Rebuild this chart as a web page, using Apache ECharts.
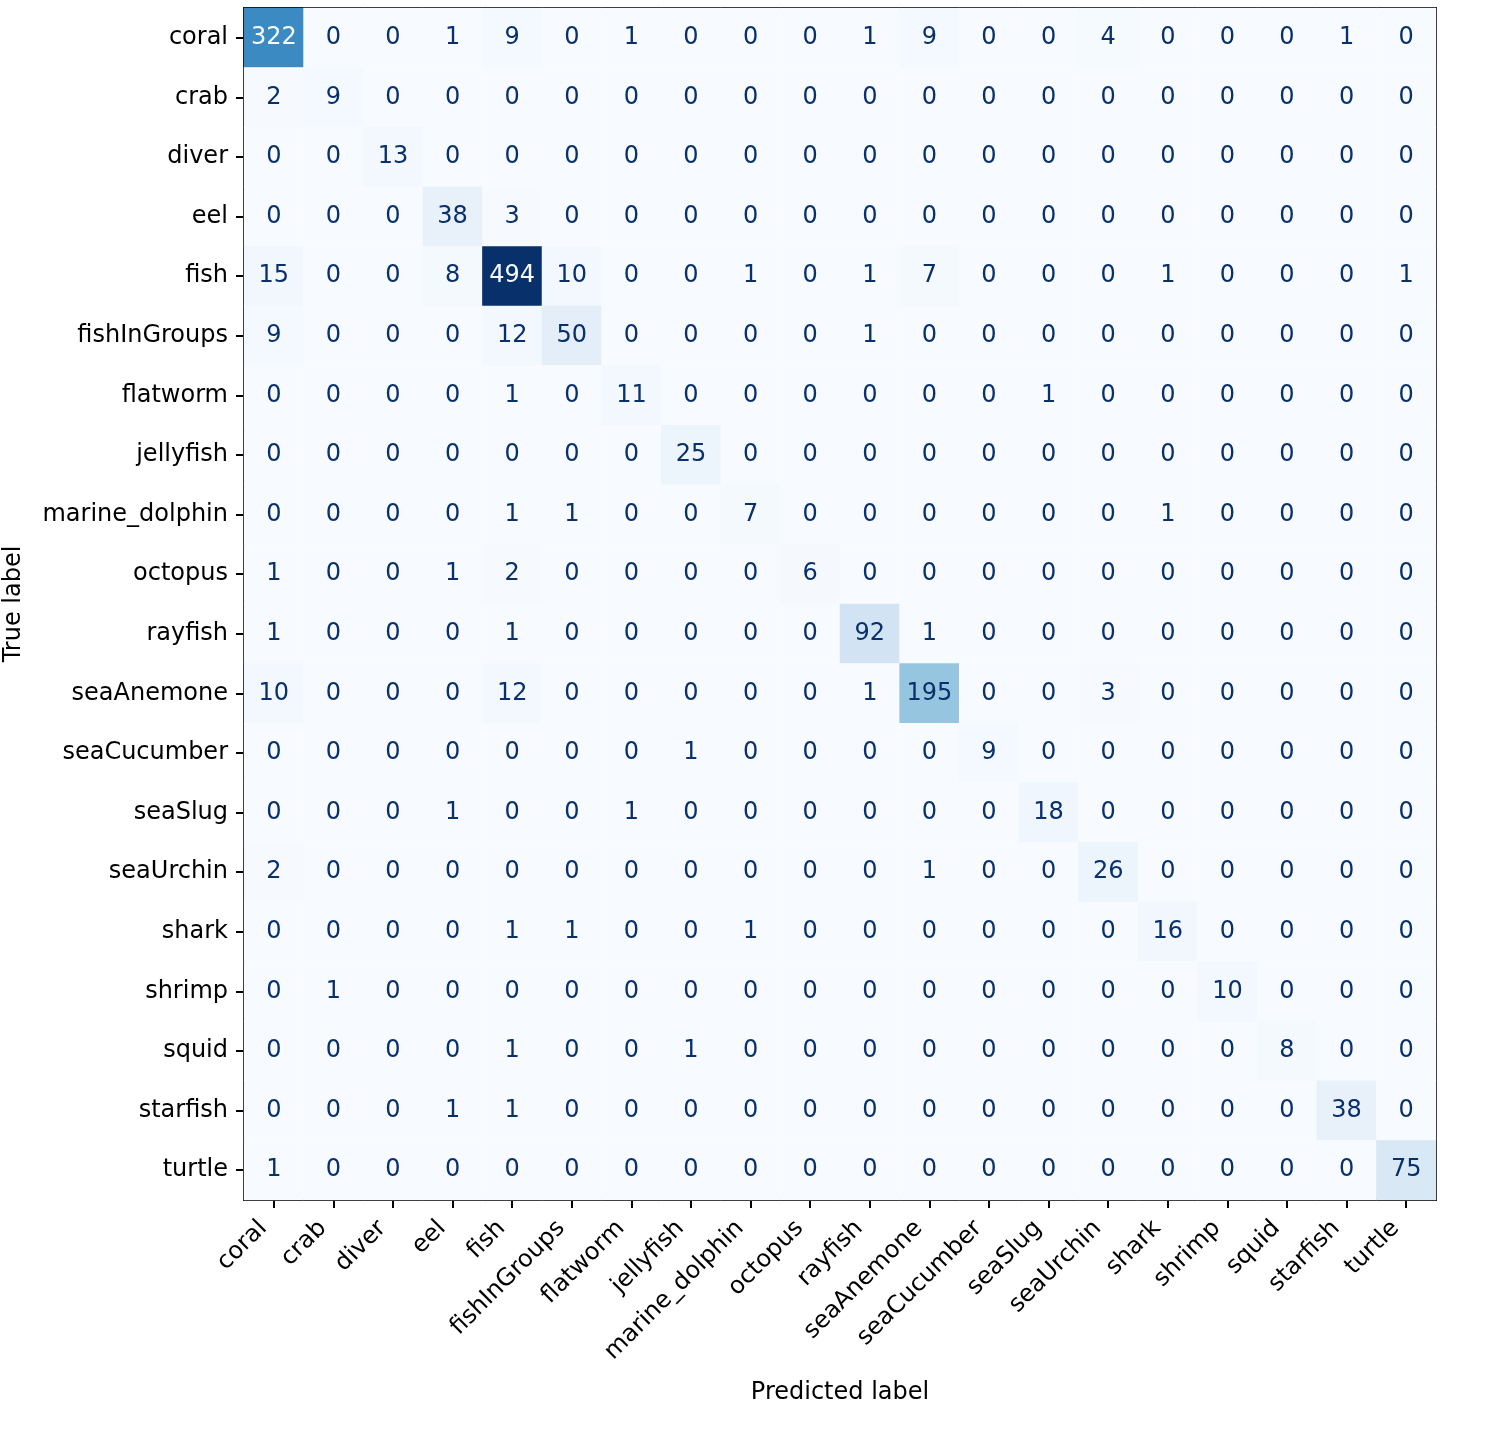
<!DOCTYPE html>
<html>
<head>
<meta charset="utf-8">
<script src="https://cdn.jsdelivr.net/npm/echarts@6/dist/echarts.min.js"></script>
<style>html,body{margin:0;padding:0;background:#fff}#chart{width:1495px;height:1447px}</style>
</head>
<body>
<div id="chart"></div>
<script>
const classes = ["coral","crab","diver","eel","fish","fishInGroups","flatworm","jellyfish","marine_dolphin","octopus","rayfish","seaAnemone","seaCucumber","seaSlug","seaUrchin","shark","shrimp","squid","starfish","turtle"];
const matrix = [
  [322,0,0,1,9,0,1,0,0,0,1,9,0,0,4,0,0,0,1,0],
  [2,9,0,0,0,0,0,0,0,0,0,0,0,0,0,0,0,0,0,0],
  [0,0,13,0,0,0,0,0,0,0,0,0,0,0,0,0,0,0,0,0],
  [0,0,0,38,3,0,0,0,0,0,0,0,0,0,0,0,0,0,0,0],
  [15,0,0,8,494,10,0,0,1,0,1,7,0,0,0,1,0,0,0,1],
  [9,0,0,0,12,50,0,0,0,0,1,0,0,0,0,0,0,0,0,0],
  [0,0,0,0,1,0,11,0,0,0,0,0,0,1,0,0,0,0,0,0],
  [0,0,0,0,0,0,0,25,0,0,0,0,0,0,0,0,0,0,0,0],
  [0,0,0,0,1,1,0,0,7,0,0,0,0,0,0,1,0,0,0,0],
  [1,0,0,1,2,0,0,0,0,6,0,0,0,0,0,0,0,0,0,0],
  [1,0,0,0,1,0,0,0,0,0,92,1,0,0,0,0,0,0,0,0],
  [10,0,0,0,12,0,0,0,0,0,1,195,0,0,3,0,0,0,0,0],
  [0,0,0,0,0,0,0,1,0,0,0,0,9,0,0,0,0,0,0,0],
  [0,0,0,1,0,0,1,0,0,0,0,0,0,18,0,0,0,0,0,0],
  [2,0,0,0,0,0,0,0,0,0,0,1,0,0,26,0,0,0,0,0],
  [0,0,0,0,1,1,0,0,1,0,0,0,0,0,0,16,0,0,0,0],
  [0,1,0,0,0,0,0,0,0,0,0,0,0,0,0,0,10,0,0,0],
  [0,0,0,0,1,0,0,1,0,0,0,0,0,0,0,0,0,8,0,0],
  [0,0,0,1,1,0,0,0,0,0,0,0,0,0,0,0,0,0,38,0],
  [1,0,0,0,0,0,0,0,0,0,0,0,0,0,0,0,0,0,0,75]
];
const blues = ['#f7fbff','#deebf7','#c6dbef','#9ecae1','#6baed6','#4292c6','#2171b5','#08519c','#08306b'];

let vmax = 0, vmin = Infinity;
matrix.forEach(r => r.forEach(v => { vmax = Math.max(vmax, v); vmin = Math.min(vmin, v); }));
const thresh = (vmax + vmin) / 2;
const data = [];
matrix.forEach((row, i) => row.forEach((v, j) => {
  data.push({ value: [j, i, v], label: { color: v > thresh ? blues[0] : blues[8] } });
}));

const FONT = 'DejaVu Sans';
const chart = echarts.init(document.getElementById('chart'), null, { renderer: 'canvas' });
chart.setOption({
  backgroundColor: '#ffffff',
  animation: false,
  textStyle: { fontFamily: FONT },
  grid: { left: 244, top: 8, width: 1192, height: 1192, containLabel: false, outerBoundsMode: 'none' },
  xAxis: [{
    type: 'category', data: classes, position: 'bottom',
    name: 'Predicted label', nameLocation: 'middle', nameGap: 181,
    nameTextStyle: { fontSize: 24, color: '#000', fontFamily: FONT },
    axisLine: { show: true, lineStyle: { color: '#000', width: 2 } },
    axisTick: { show: true, alignWithLabel: true, length: 8, lineStyle: { color: '#000', width: 2 } },
    axisLabel: { rotate: 45, fontSize: 24, color: '#000', margin: 14, interval: 0, fontFamily: FONT, padding: [0, 15, 0, 0] },
    splitLine: { show: false }
  }, {
    type: 'category', data: classes, position: 'top', gridIndex: 0,
    axisLine: { show: true, onZero: false, lineStyle: { color: '#000', width: 2 } },
    axisTick: { show: false }, axisLabel: { show: false }, splitLine: { show: false }
  }],
  yAxis: [{
    type: 'category', data: classes, inverse: true, position: 'left',
    name: 'True label', nameLocation: 'middle', nameGap: 218, nameRotate: 90,
    nameTextStyle: { fontSize: 24, color: '#000', fontFamily: FONT },
    axisLine: { show: true, lineStyle: { color: '#000', width: 2 } },
    axisTick: { show: true, alignWithLabel: true, length: 8, lineStyle: { color: '#000', width: 2 } },
    axisLabel: { fontSize: 24, color: '#000', margin: 16, interval: 0, fontFamily: FONT },
    splitLine: { show: false }
  }, {
    type: 'category', data: classes, inverse: true, position: 'right',
    axisLine: { show: true, onZero: false, lineStyle: { color: '#000', width: 2 } },
    axisTick: { show: false }, axisLabel: { show: false }, splitLine: { show: false }
  }],
  visualMap: {
    show: false, min: vmin, max: vmax, dimension: 2, seriesIndex: 0,
    inRange: { color: blues }
  },
  series: [{
    type: 'heatmap', xAxisIndex: 0, yAxisIndex: 0,
    data: data,
    label: { show: true, fontSize: 24, fontFamily: FONT, formatter: p => String(p.value[2]) },
    itemStyle: { borderWidth: 0 },
    emphasis: { disabled: true }
  }]
});
</script>
</body>
</html>
